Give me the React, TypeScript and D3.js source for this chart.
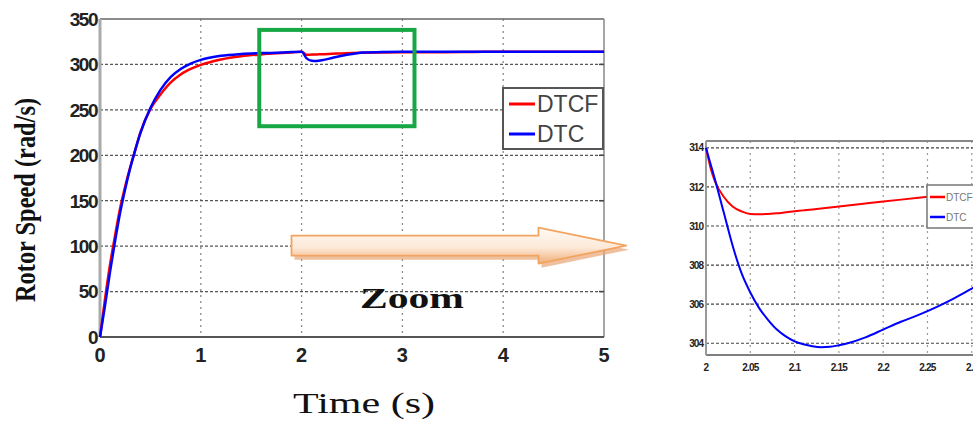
import { useEffect, useRef } from 'react';
import * as d3 from 'd3';

// main response, 0..5 s
const timeMain = [0, 0.05, 0.1, 0.15, 0.2, 0.25, 0.3, 0.35, 0.4, 0.5, 0.6, 0.7, 0.8, 0.9, 1.0, 1.2, 1.4, 1.6, 1.8, 1.9, 2.0,
  2.05, 2.1, 2.15, 2.2, 2.3, 2.4, 2.5, 2.6, 2.8, 3.0, 3.3, 3.6, 3.8, 4.0, 4.5, 5.0];
const dtcfMain = [0, 42, 80, 112, 142, 166, 187, 206, 225, 251, 267, 280, 289, 295, 299.5, 305.5, 309, 311, 312.5, 313.2, 314,
  310.6, 310.8, 311, 311.3, 311.7, 312.1, 312.5, 312.8, 313.1, 313.3, 313.5, 313.6, 314, 314, 314, 314];
const dtcMain = [0, 35, 72, 106, 137, 163, 186, 206, 224, 252, 272, 286, 295, 301, 305, 309.5, 311.5, 312.5, 313, 313.6, 314,
  306.6, 304.1, 303.9, 304.7, 307, 309.5, 311.5, 313, 313.8, 314, 314, 314, 314, 314, 314, 314];

// zoomed window 2..2.32 s
const timeZoom = [2.0, 2.005, 2.01, 2.02, 2.03, 2.04, 2.05, 2.06, 2.07, 2.08, 2.09, 2.1, 2.11, 2.12, 2.13, 2.14, 2.15, 2.16,
  2.18, 2.2, 2.22, 2.24, 2.26, 2.28, 2.3, 2.32];
const dtcfZoom = [314, 313.0, 312.3, 311.5, 311.0, 310.75, 310.62, 310.6, 310.62, 310.65, 310.7, 310.75, 310.8, 310.85, 310.9,
  310.95, 311.0, 311.05, 311.15, 311.25, 311.35, 311.45, 311.55, 311.65, 311.75, 311.85];
const dtcZoom = [314, 313.2, 312.4, 310.7, 309.0, 307.6, 306.6, 305.8, 305.2, 304.7, 304.35, 304.1, 303.95, 303.85, 303.8,
  303.82, 303.9, 304.0, 304.3, 304.7, 305.1, 305.45, 305.85, 306.3, 306.8, 307.3];

const xTicksMain = [0, 1, 2, 3, 4, 5];
const yTicksMain = [0, 50, 100, 150, 200, 250, 300, 350];
const xTicksZoom = [2, 2.05, 2.1, 2.15, 2.2, 2.25, 2.3];
const yTicksZoom = [304, 306, 308, 310, 312, 314];
const seriesNames = ['DTCF', 'DTC'];
const seriesColors = ['#ff0000', '#0000ff'];
// zoom window drawn on the main chart [t0, t1, v0, v1]
const zoomBox = [1.58, 3.12, 232, 338];

export default function App() {
  const svgRef = useRef<SVGSVGElement | null>(null);

  useEffect(() => {
    if (!svgRef.current) return;
    const svg = d3.select(svgRef.current);
    svg.selectAll('*').remove();

    const defs = svg.append('defs');
    const grad = defs.append('linearGradient').attr('id', 'arrowFill')
      .attr('x1', 0).attr('y1', 0).attr('x2', 0).attr('y2', 1);
    grad.append('stop').attr('offset', '0%').attr('stop-color', '#fffaf4');
    grad.append('stop').attr('offset', '55%').attr('stop-color', '#fde9d8');
    grad.append('stop').attr('offset', '100%').attr('stop-color', '#f0ae78');

    // ---------- main chart ----------
    const x = d3.scaleLinear().domain([0, 5]).range([100, 604]);
    const y = d3.scaleLinear().domain([0, 350]).range([337, 19]);

    const g = svg.append('g');
    g.append('rect').attr('x', 100).attr('y', 19).attr('width', 504).attr('height', 318).attr('fill', '#fff');

    // grid
    g.selectAll('.vg').data(xTicksMain.slice(1, -1)).enter().append('line')
      .attr('x1', (d) => x(d)).attr('x2', (d) => x(d)).attr('y1', y(350)).attr('y2', y(0))
      .attr('stroke', '#8a8a8a').attr('stroke-width', 1.3).attr('stroke-dasharray', '2,4');
    g.selectAll('.hg').data(yTicksMain.slice(1, -1)).enter().append('line')
      .attr('x1', x(0)).attr('x2', x(5)).attr('y1', (d) => y(d)).attr('y2', (d) => y(d))
      .attr('stroke', '#555').attr('stroke-width', 1.3).attr('stroke-dasharray', '3,2');

    // frame
    g.append('line').attr('x1', x(0)).attr('x2', x(5)).attr('y1', y(350)).attr('y2', y(350))
      .attr('stroke', '#666').attr('stroke-width', 1.5);
    g.append('line').attr('x1', x(5)).attr('x2', x(5)).attr('y1', y(350)).attr('y2', y(0))
      .attr('stroke', '#888').attr('stroke-width', 1.5);
    g.append('line').attr('x1', x(0)).attr('x2', x(5)).attr('y1', y(0)).attr('y2', y(0))
      .attr('stroke', '#555').attr('stroke-width', 2);
    g.append('line').attr('x1', x(0)).attr('x2', x(0)).attr('y1', y(350)).attr('y2', y(0))
      .attr('stroke', '#aaa').attr('stroke-width', 3);
    g.selectAll('.rt').data(yTicksMain.slice(1, -1)).enter().append('line')
      .attr('x1', x(5) - 5).attr('x2', x(5)).attr('y1', (d) => y(d)).attr('y2', (d) => y(d))
      .attr('stroke', '#444').attr('stroke-width', 1.5);

    // tick labels
    g.selectAll('.yl').data(yTicksMain).enter().append('text')
      .attr('x', 97).attr('y', (d) => y(d)).attr('dy', '0.36em').attr('text-anchor', 'end')
      .attr('font-family', 'Liberation Sans, Arial, sans-serif').attr('font-weight', 'bold')
      .attr('font-size', 19).attr('letter-spacing', -1.5).attr('fill', '#222').text((d) => d);
    g.selectAll('.xl').data(xTicksMain).enter().append('text')
      .attr('x', (d) => x(d)).attr('y', 362).attr('text-anchor', 'middle')
      .attr('font-family', 'Liberation Sans, Arial, sans-serif').attr('font-weight', 'bold')
      .attr('font-size', 20).attr('fill', '#222').text((d) => d);

    // curves
    const lineMain = d3.line<number>().x((_, i) => x(timeMain[i])).y((d) => y(d)).curve(d3.curveMonotoneX);
    g.append('path').datum(dtcfMain).attr('d', lineMain).attr('fill', 'none')
      .attr('stroke', seriesColors[0]).attr('stroke-width', 2.5);
    g.append('path').datum(dtcMain).attr('d', lineMain).attr('fill', 'none')
      .attr('stroke', seriesColors[1]).attr('stroke-width', 2.5);

    // zoom window box
    g.append('rect').attr('x', x(zoomBox[0])).attr('y', y(zoomBox[3]))
      .attr('width', x(zoomBox[1]) - x(zoomBox[0])).attr('height', y(zoomBox[2]) - y(zoomBox[3]))
      .attr('fill', 'none').attr('stroke', '#17a845').attr('stroke-width', 4);

    // legend
    const leg = g.append('g');
    leg.append('rect').attr('x', 503).attr('y', 88).attr('width', 100).attr('height', 61)
      .attr('fill', '#fff').attr('stroke', '#555').attr('stroke-width', 2);
    seriesNames.forEach((name, i) => {
      const ly = 104 + i * 30;
      leg.append('line').attr('x1', 509).attr('x2', 535).attr('y1', ly).attr('y2', ly)
        .attr('stroke', seriesColors[i]).attr('stroke-width', 3);
      leg.append('text').attr('x', 537).attr('y', ly + 8).attr('font-family', 'Liberation Sans, Arial, sans-serif')
        .attr('font-size', 23).attr('fill', '#444').text(name);
    });

    // axis titles
    svg.append('text').attr('transform', 'translate(35,200) rotate(-90)').attr('text-anchor', 'middle')
      .attr('font-family', 'Liberation Serif, Times New Roman, serif').attr('font-weight', 'bold')
      .attr('font-size', 30).attr('textLength', 204).attr('lengthAdjust', 'spacingAndGlyphs')
      .attr('fill', '#111').text('Rotor Speed (rad/s)');
    svg.append('text').attr('x', 293).attr('y', 413)
      .attr('font-family', 'Liberation Serif, Times New Roman, serif')
      .attr('font-size', 30).attr('textLength', 142).attr('lengthAdjust', 'spacingAndGlyphs')
      .attr('fill', '#111').text('Time (s)');

    // arrow
    const ax0 = x(1.9), ax1 = x(4.35), ax2 = x(5.22), ac = y(100) - 0.5;
    const arrowPts: [number, number][] = [
      [ax0, ac - 10], [ax1, ac - 10], [ax1, ac - 18], [ax2, ac], [ax1, ac + 18], [ax1, ac + 10], [ax0, ac + 10],
    ];
    svg.append('polygon').attr('points', arrowPts.map((p) => `${p[0] + 3},${p[1] + 4}`).join(' '))
      .attr('fill', '#e8a574').attr('opacity', 0.7);
    svg.append('polygon').attr('points', arrowPts.map((p) => p.join(',')).join(' '))
      .attr('fill', 'url(#arrowFill)').attr('stroke', '#f2a461').attr('stroke-width', 1.8)
      .attr('stroke-linejoin', 'round');
    svg.append('text').attr('x', 360).attr('y', 308)
      .attr('font-family', 'Liberation Serif, Times New Roman, serif').attr('font-weight', 'bold')
      .attr('font-size', 30).attr('textLength', 104).attr('lengthAdjust', 'spacingAndGlyphs')
      .attr('fill', '#111').text('Zoom');

    // ---------- zoom inset ----------
    const xz = d3.scaleLinear().domain([2, 2.32]).range([706, 989.5]);
    const yz = d3.scaleLinear().domain([303.4, 314.35]).range([355, 141]);
    const z = svg.append('g');
    z.append('rect').attr('x', 706).attr('y', 141).attr('width', 300).attr('height', 214).attr('fill', '#fff');
    z.selectAll('.zvg').data(xTicksZoom.slice(1)).enter().append('line')
      .attr('x1', (d) => xz(d)).attr('x2', (d) => xz(d)).attr('y1', 141).attr('y2', 355)
      .attr('stroke', '#999').attr('stroke-width', 1.2).attr('stroke-dasharray', '2,4');
    z.selectAll('.zhg').data(yTicksZoom).enter().append('line')
      .attr('x1', 706).attr('x2', 990).attr('y1', (d) => yz(d)).attr('y2', (d) => yz(d))
      .attr('stroke', '#444').attr('stroke-width', 1.2).attr('stroke-dasharray', '3,2');
    z.append('line').attr('x1', 706).attr('x2', 990).attr('y1', 141).attr('y2', 141)
      .attr('stroke', '#888').attr('stroke-width', 2);
    z.append('line').attr('x1', 706).attr('x2', 990).attr('y1', 355).attr('y2', 355)
      .attr('stroke', '#555').attr('stroke-width', 1.5);
    z.append('line').attr('x1', 706).attr('x2', 706).attr('y1', 141).attr('y2', 355)
      .attr('stroke', '#999').attr('stroke-width', 2);
    z.selectAll('.zyl').data(yTicksZoom).enter().append('text')
      .attr('x', 703).attr('y', (d) => yz(d)).attr('dy', '0.36em').attr('text-anchor', 'end')
      .attr('font-family', 'Liberation Sans, Arial, sans-serif').attr('font-weight', 'bold')
      .attr('font-size', 10).attr('letter-spacing', -1).attr('fill', '#222').text((d) => d);
    z.selectAll('.zxl').data(xTicksZoom).enter().append('text')
      .attr('x', (d) => xz(d)).attr('y', 371).attr('text-anchor', 'middle')
      .attr('font-family', 'Liberation Sans, Arial, sans-serif').attr('font-weight', 'bold')
      .attr('font-size', 10).attr('letter-spacing', -0.8).attr('fill', '#222').text((d) => d);

    const lineZoom = d3.line<number>().x((_, i) => xz(timeZoom[i])).y((d) => yz(d)).curve(d3.curveMonotoneX);
    z.append('path').datum(dtcfZoom).attr('d', lineZoom).attr('fill', 'none')
      .attr('stroke', seriesColors[0]).attr('stroke-width', 2);
    z.append('path').datum(dtcZoom).attr('d', lineZoom).attr('fill', 'none')
      .attr('stroke', seriesColors[1]).attr('stroke-width', 2);

    const zl = z.append('g');
    zl.append('rect').attr('x', 927).attr('y', 185).attr('width', 60).attr('height', 43)
      .attr('fill', '#fff').attr('stroke', '#777').attr('stroke-width', 1.5);
    seriesNames.forEach((name, i) => {
      const ly = 197 + i * 20;
      zl.append('line').attr('x1', 930).attr('x2', 945).attr('y1', ly).attr('y2', ly)
        .attr('stroke', seriesColors[i]).attr('stroke-width', 2.5);
      zl.append('text').attr('x', 946).attr('y', ly + 3.5).attr('font-family', 'Liberation Sans, Arial, sans-serif')
        .attr('font-size', 10).attr('fill', '#777').text(name);
    });
  }, []);

  return (
    <svg ref={svgRef} width={973} height={421}
      style={{ position: 'absolute', left: 0, top: 0, background: '#fff' }} />
  );
}
